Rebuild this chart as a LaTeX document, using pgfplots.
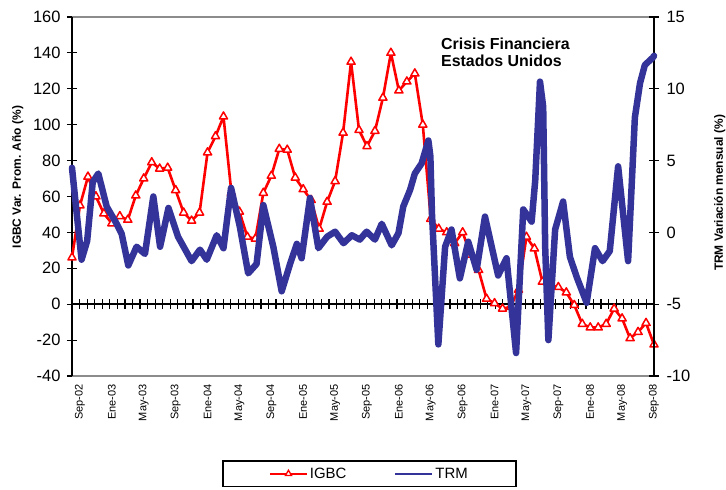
\documentclass[border=0pt]{standalone}
\usepackage{fontspec}
\setmainfont{Liberation Sans}
\usepackage{pgfplots}
\pgfplotsset{compat=1.18}
\definecolor{igbc}{HTML}{FF0000}
\definecolor{trm}{HTML}{333399}
\definecolor{frame}{HTML}{8C8C8C}

\pgfplotstableread{
x y
0 26
1 55
2 71
3 60
4 50.5
5 45
6 49
7 47
8 60.5
9 70
10 79
11 75.5
12 76
13 63.5
14 51
15 46.5
16 51
17 84.5
18 93.5
19 104.5
20 62
21 51.5
22 37.5
23 36.5
24 62
25 71.5
26 86.5
27 86
28 70.5
29 64
30 58
31 42
32 57
33 68.5
34 95.5
35 135
36 97
37 88
38 96.5
39 115
40 140
41 119
42 124
43 128.5
44 100
45 47.5
46 42
47 40
48 34
49 40
50 27.5
51 19
52 3
53 0.5
54 -2.5
55 -1.5
56 8
57 37.5
58 31
59 12.5
60 10.5
61 9.5
62 6.5
63 -0.5
64 -11
65 -13
66 -13
67 -11
68 -2.5
69 -8
70 -19
71 -15.5
72 -10.5
73 -22.5
}\igbcdata

\pgfplotstableread{
x y
0 4.5
0.5 1.8
1.2 -1.9
1.9 -0.6
2.6 3.5
3.3 4.1
4.35 1.8
5.6 0.6
6.23 -0.1
7.06 -2.3
8.1 -1.0
9.15 -1.5
10.2 2.5
11.05 -1.0
12.1 1.7
13.3 -0.3
15.0 -2.0
16.05 -1.2
16.9 -1.9
18.15 -0.2
19.0 -1.1
19.95 3.1
21.05 0.4
22.1 -2.85
23.15 -2.2
24.0 1.9
25.25 -1.0
26.3 -4.1
27.35 -2.2
28.2 -0.8
28.8 -1.8
29.85 2.4
30.9 -1.1
32.0 -0.3
33.0 0.05
34.05 -0.75
35.1 -0.2
36.1 -0.5
36.95 0.05
38.0 -0.5
38.85 0.6
40.1 -0.9
40.95 -0.05
41.55 1.8
42.4 2.95
43.0 4.1
43.85 4.8
44.7 6.4
44.95 5.3
45.15 1.3
45.95 -7.8
46.8 -1.0
47.6 0.2
48.65 -3.2
49.7 -0.65
50.75 -2.6
51.8 1.1
53.45 -3.0
54.5 -1.8
55.7 -8.4
56.6 1.6
57.65 0.75
58.1 3.6
58.7 10.5
59.1 8.75
59.35 -1.0
59.75 -7.5
60.6 0.2
61.6 2.15
62.45 -1.7
63.3 -3.1
64.55 -4.9
65.6 -1.1
66.55 -2.0
67.45 -1.3
68.5 4.6
69.75 -2.0
70.6 8.0
71.25 10.4
71.85 11.65
72.9 12.2
73 12.3
}\trmdata

\begin{document}
\begin{tikzpicture}
% zero line with crossing ticks
\begin{axis}[
  scale only axis, width=582bp, height=359bp,
  xmin=0, xmax=77, ymin=-40, ymax=160,
  axis x line*=middle, axis y line=none,
  x axis line style={black, line width=1.6bp},
  xtick={1,...,76}, xticklabels={},
  xtick style={black, line width=1.2bp},
  tick align=center, major tick length=10bp,
]
\addplot[draw=none, forget plot] coordinates {(0,0)};
\end{axis}

% left axis: IGBC
\begin{axis}[
  scale only axis, width=582bp, height=359bp,
  xmin=0, xmax=73, ymin=-40, ymax=160,
  separate axis lines,
  x axis line style={frame, line width=1.5bp},
  y axis line style={black, line width=1.6bp},
  ytick={-40,-20,...,160}, ytick pos=left,
  tick align=center, major tick length=10bp,
  ytick style={black, line width=1.2bp},
  xtick={1,5,...,73},
  xtick style={draw=none},
  xticklabels={Sep-02,Ene-03,May-03,Sep-03,Ene-04,May-04,Sep-04,Ene-05,May-05,Sep-05,Ene-06,May-06,Sep-06,Ene-07,May-07,Sep-07,Ene-08,May-08,Sep-08},
  xticklabel style={rotate=90, anchor=east, font=\fontsize{11}{12}\selectfont},
  yticklabel style={font=\fontsize{16.5}{18}\selectfont, xshift=-3bp},
  /pgf/number format/assume math mode=true,
  ylabel={IGBC Var. Prom. Año (\%)},
  every axis y label/.style={at={(axis description cs:-0.093,0.554)}, rotate=90, anchor=center, font=\bfseries\fontsize{12}{14}\selectfont},
  clip=false,
]
\addplot[igbc, line width=2.6bp, line join=round, mark=triangle*, mark size=4.7bp,
  mark options={fill=white, draw=igbc, line width=1.5bp, solid}] table[x=x,y=y] {\igbcdata};
\node[anchor=north west, align=left, inner sep=0pt, font=\bfseries\fontsize{16}{17}\selectfont]
  at (rel axis cs:0.634,0.9415) {Crisis Financiera\\Estados Unidos};
\end{axis}

% right axis: TRM
\begin{axis}[
  scale only axis, width=582bp, height=359bp,
  xmin=0, xmax=73, ymin=-10, ymax=15,
  axis y line*=right, axis x line=none,
  y axis line style={black, line width=1.6bp},
  ytick={-10,-5,...,15},
  tick align=center, major tick length=10bp,
  ytick style={black, line width=1.2bp},
  yticklabel style={font=\fontsize{16.5}{18}\selectfont, xshift=4bp},
  /pgf/number format/assume math mode=true,
  ylabel={TRM Variación mensual (\%)},
  every axis y label/.style={at={(axis description cs:1.113,0.51)}, rotate=90, anchor=center, font=\bfseries\fontsize{12}{14}\selectfont},
  legend columns=2,
  legend style={at={(axis description cs:0.511,-0.234)}, anchor=north, draw=black, line width=1.5bp,
    font=\fontsize{15}{17}\selectfont, inner xsep=46bp, inner ysep=5bp,
    /tikz/every even column/.append style={column sep=46bp}},
  legend image code/.code={\draw[mark repeat=2,mark phase=2,#1] plot coordinates {(0bp,0bp)(18.5bp,0bp)(37bp,0bp)};},
  clip=false,
]
\addlegendimage{igbc, line width=2bp, mark=triangle*, mark size=3.5bp, mark options={fill=white, draw=igbc, line width=1.3bp, solid}}
\addlegendentry{IGBC}
\addlegendimage{trm, line width=2bp}
\addlegendentry{TRM}
\addplot[trm, line width=6.5bp, line join=round, line cap=round, forget plot] table[x=x,y=y] {\trmdata};
\end{axis}
\pgfresetboundingbox
\path[use as bounding box] (-72bp,-114bp) rectangle (654bp,376bp);
\end{tikzpicture}
\end{document}
